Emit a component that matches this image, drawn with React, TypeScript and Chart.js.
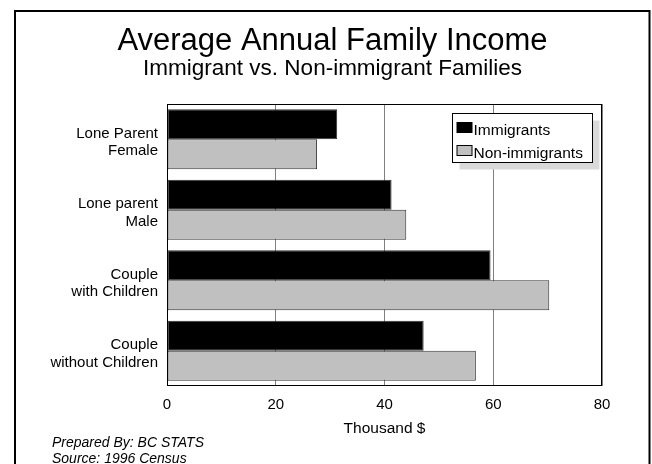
import React, { useEffect, useRef } from "react";
import { Chart, registerables } from "chart.js";

Chart.register(...registerables);

// ---- data ----
const categories: string[][] = [
  ["Lone Parent", "Female"],
  ["Lone parent", "Male"],
  ["Couple", "with Children"],
  ["Couple", "without Children"],
];
const seriesNames: string[] = ["Immigrants", "Non-immigrants"];
const immigrants: number[] = [31.3, 41.3, 59.5, 47.2];
const nonImmigrants: number[] = [27.6, 44.0, 70.3, 56.8];
const xTicks: number[] = [0, 20, 40, 60, 80];
const titleText = "Average Annual Family Income";
const subtitleText = "Immigrant vs. Non-immigrant Families";
const axisTitle = "Thousand $";
const footerLines: string[] = ["Prepared By: BC STATS", "Source: 1996 Census"];

const FONT = "'Liberation Sans', Arial, Helvetica, sans-serif";
const seriesColors = ["#000000", "#c0c0c0"];

const decorPlugin = {
  id: "decor",
  beforeDraw(chart: any) {
    const ctx = chart.ctx;
    ctx.save();
    ctx.fillStyle = "#ffffff";
    ctx.fillRect(0, 0, chart.width, chart.height);
    ctx.strokeStyle = "#000";
    ctx.lineWidth = 2;
    ctx.strokeRect(15, 11, 634.5, 480);
    ctx.restore();
  },
  afterDraw(chart: any) {
    const ctx = chart.ctx;
    const a = chart.chartArea;
    ctx.save();
    // plot border
    ctx.strokeStyle = "#000";
    ctx.lineWidth = 1;
    const l = Math.round(a.left) + 0.5;
    const t = Math.round(a.top) + 0.5;
    const r = Math.round(a.right) - 0.5;
    const b = Math.round(a.bottom) - 0.5;
    ctx.strokeRect(l, t, r - l, b - t);

    // legend with shadow
    const lx = Math.round(a.right - 150) + 0.5;
    const ly = Math.round(a.top + 9) + 0.5;
    const w = 140;
    const h = 49;
    ctx.fillStyle = "#d9d9d9";
    ctx.fillRect(lx + 7, ly + 7, w, h);
    ctx.fillStyle = "#fff";
    ctx.fillRect(lx, ly, w, h);
    ctx.strokeStyle = "#000";
    ctx.strokeRect(lx, ly, w, h);
    ctx.font = `15.5px ${FONT}`;
    ctx.textBaseline = "alphabetic";
    ctx.textAlign = "left";
    chart.data.datasets.forEach((ds: any, i: number) => {
      const sy = ly + 9 + i * 23;
      ctx.fillStyle = ds.backgroundColor;
      ctx.fillRect(lx + 4.5, sy, 15, 10);
      ctx.strokeStyle = "#000";
      ctx.strokeRect(lx + 4.5, sy, 15, 10);
      ctx.fillStyle = "#000";
      ctx.fillText(ds.label, lx + 21, ly + 21 + i * 23);
    });

    // footer
    ctx.font = `italic 14px ${FONT}`;
    ctx.fillStyle = "#000";
    footerLines.forEach((s, i) => ctx.fillText(s, 52, 447 + i * 16));
    ctx.restore();
  },
};

export default function App() {
  const ref = useRef<HTMLCanvasElement | null>(null);
  useEffect(() => {
    if (!ref.current) return;
    Chart.defaults.font.family = FONT;
    Chart.defaults.color = "#000";
    const chart = new Chart(ref.current, {
      type: "bar",
      data: {
        labels: categories,
        datasets: [
          {
            label: seriesNames[0],
            data: immigrants,
            backgroundColor: seriesColors[0],
            borderColor: "#333",
            borderWidth: 1,
            borderSkipped: false,
            barPercentage: 1,
            categoryPercentage: 0.85,
          },
          {
            label: seriesNames[1],
            data: nonImmigrants,
            backgroundColor: seriesColors[1],
            borderColor: "#333",
            borderWidth: 1,
            borderSkipped: false,
            barPercentage: 1,
            categoryPercentage: 0.85,
          },
        ],
      },
      options: {
        indexAxis: "y",
        responsive: false,
        animation: false,
        events: [],
        layout: { padding: { top: 0, left: 13, right: 0, bottom: 26 } },
        plugins: {
          legend: { display: false },
          tooltip: { enabled: false },
          title: {
            display: true,
            text: titleText,
            color: "#000",
            font: { size: 31, weight: "normal", lineHeight: 1 },
            padding: { top: 26, bottom: 0 },
          },
          subtitle: {
            display: true,
            text: subtitleText,
            color: "#000",
            font: { size: 22.5, weight: "normal", lineHeight: 1 },
            padding: { top: 1, bottom: 23.5 },
          },
        },
        scales: {
          x: {
            type: "linear",
            min: xTicks[0],
            max: xTicks[xTicks.length - 1],
            afterBuildTicks: (s: any) => {
              s.ticks = xTicks.map((v) => ({ value: v }));
            },
            afterFit: (s: any) => {
              s.height = 52;
            },
            grid: { color: "#808080", lineWidth: 1, drawTicks: false },
            border: { display: false },
            ticks: { padding: 10, color: "#000", font: { size: 15, lineHeight: 1.2 } },
            title: {
              display: true,
              text: axisTitle,
              color: "#000",
              font: { size: 15.5, lineHeight: 1.2 },
              padding: 0,
            },
          },
          y: {
            type: "category",
            afterFit: (s: any) => {
              s.width = 154;
            },
            grid: { display: false },
            border: { display: false },
            ticks: { padding: 1, labelOffset: 3, color: "#000", font: { size: 15, lineHeight: 1.16 } },
          },
          yRight: {
            type: "linear",
            position: "right",
            display: true,
            afterFit: (s: any) => {
              s.width = 50;
            },
            grid: { display: false },
            border: { display: false },
            ticks: { display: false },
          },
        },
      },
      plugins: [decorPlugin],
    } as any);
    return () => chart.destroy();
  }, []);
  return (
    <div style={{ position: "absolute", left: 0, top: 0, width: 652, height: 464, background: "#fff" }}>
      <canvas ref={ref} width={652} height={464} style={{ display: "block" }} />
    </div>
  );
}
